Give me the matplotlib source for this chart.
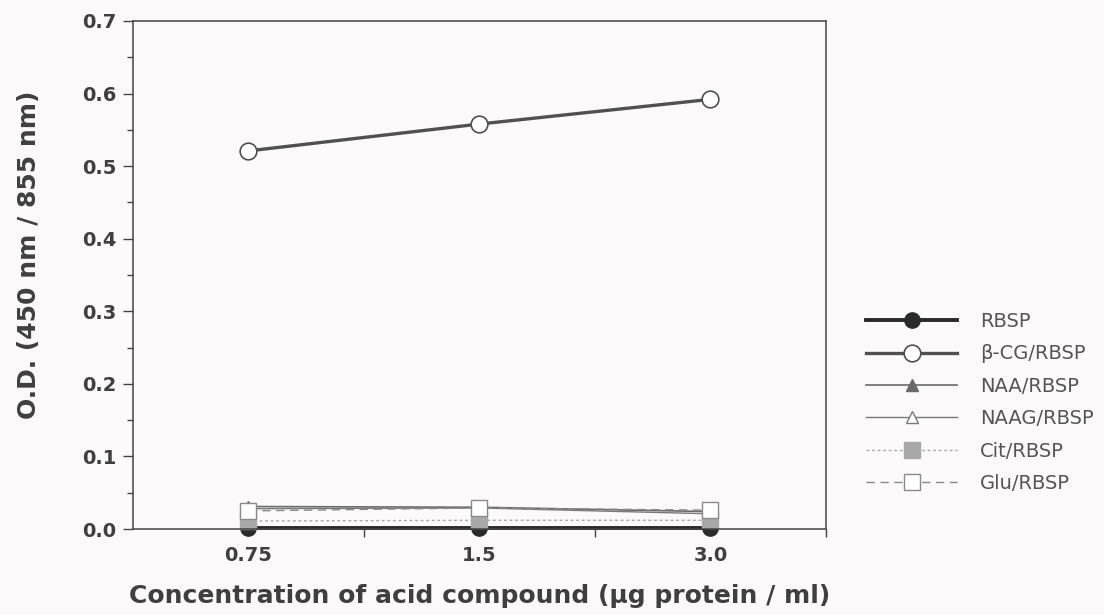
import matplotlib.pyplot as plt
import numpy as np
from matplotlib.ticker import MultipleLocator, FixedLocator

plt.rcParams['font.family'] = ['DejaVu Sans']

bg = "#fbf9f9"
txt = "#3f3f3f"

''' Data '''
concentrations = ["0.75", "1.5", "3.0"]
rbsp = [0.001, 0.001, 0.001]
bcg = [0.521, 0.558, 0.592]
naa = [0.031, 0.030, 0.024]
naag = [0.028, 0.029, 0.021]
cit = [0.011, 0.012, 0.012]
glu = [0.025, 0.029, 0.026]

series = [
    ("RBSP", rbsp, dict(color="#2a2a2a", lw=2.8, marker="o", ms=11, mfc="#2a2a2a", mec="#2a2a2a", ls="-")),
    ("\u03b2-CG/RBSP", bcg, dict(color="#505050", lw=2.4, marker="o", ms=12, mfc="white", mec="#505050", mew=1.2, ls="-")),
    ("NAA/RBSP", naa, dict(color="#6a6a6a", lw=1.2, marker="^", ms=9, mfc="#6a6a6a", mec="#6a6a6a", ls="-")),
    ("NAAG/RBSP", naag, dict(color="#7a7a7a", lw=1.0, marker="^", ms=9, mfc="white", mec="#7a7a7a", ls="-")),
    ("Cit/RBSP", cit, dict(color="#a8a8a8", lw=1.0, marker="s", ms=11, mfc="#a8a8a8", mec="#a8a8a8", ls=(0, (2, 2)))),
    ("Glu/RBSP", glu, dict(color="#8a8a8a", lw=1.0, marker="s", ms=11, mfc="white", mec="#8a8a8a", ls=(0, (6, 4)))),
]

fig = plt.figure(figsize=(11.04, 6.15), dpi=100, facecolor=bg)
ax = fig.add_axes([0.1205, 0.1398, 0.6275, 0.8261])
ax.set_facecolor(bg)

xpos = np.arange(len(concentrations)) + 0.5
handles = []
for label, vals, st in series:
    h, = ax.plot(xpos, vals, label=label, clip_on=False, **st)
    handles.append(h)

ax.set_xlim(0, 3)
ax.set_ylim(0, 0.7)

# category labels centred, tick marks on boundaries
ax.set_xticks(xpos, labels=concentrations)
ax.xaxis.set_minor_locator(FixedLocator([1, 2, 3]))
ax.tick_params(axis="x", which="major", length=0, pad=12)
ax.tick_params(axis="x", which="minor", length=6, width=1, color="#444444", direction="out")

ax.yaxis.set_major_locator(MultipleLocator(0.1))
ax.yaxis.set_minor_locator(MultipleLocator(0.05))
ax.yaxis.set_major_formatter(plt.FuncFormatter(lambda v, p: f"{v:.1f}"))
ax.tick_params(axis="y", which="major", length=7, width=1, color="#444444", direction="out", pad=5)
ax.tick_params(axis="y", which="minor", length=4, width=1, color="#444444", direction="out")
ax.tick_params(axis="both", labelsize=14, labelcolor=txt)
for lab in ax.get_xticklabels() + ax.get_yticklabels():
    lab.set_fontweight("bold")

for sp in ax.spines.values():
    sp.set_color("#444444")
    sp.set_linewidth(1.1)

ax.set_xlabel("Concentration of acid compound (\u03bcg protein / ml)",
              fontsize=18, fontweight="bold", color=txt, labelpad=14)
ax.set_ylabel("O.D. (450 nm / 855 nm)",
              fontsize=18, fontweight="bold", color=txt)
ax.yaxis.set_label_coords(-0.133, 0.539)

fig.legend(handles=handles, loc="center left", bbox_to_anchor=(0.769, 0.3455),
           frameon=False, fontsize=14, handlelength=4.65, handletextpad=1.2,
           labelspacing=0.69, labelcolor="#555555")

plt.savefig("out.png", dpi=100, facecolor=bg)
